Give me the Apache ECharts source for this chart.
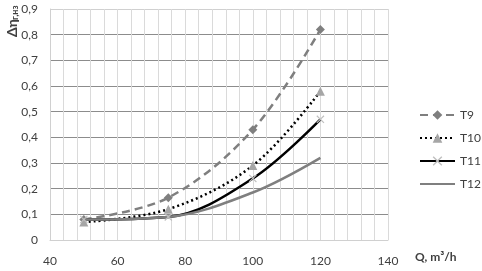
<!DOCTYPE html>
<html>
<head>
<meta charset="utf-8">
<script src="https://cdn.jsdelivr.net/npm/echarts@6/dist/echarts.min.js"></script>
<style>
  html, body { margin: 0; padding: 0; background: #fff; }
  #chart { width: 482px; height: 271px; }
</style>
</head>
<body>
<div id="chart"></div>
<script>
var flowQ = [50, 75, 100, 120];
var t9 = [0.08, 0.165, 0.43, 0.82];
var t10 = [0.07, 0.12, 0.29, 0.58];
var t11 = [0.08, 0.09, 0.24, 0.47];
var t12 = [0.08, 0.09, 0.185, 0.32];
var seriesNames = ['T9', 'T10', 'T11', 'T12'];

function pairs(ys) {
    return flowQ.map(function (q, i) { return [q, ys[i]]; });
}

var crossPath = 'path://M0,1L1,0L5,4L9,0L10,1L6,5L10,9L9,10L5,6L1,10L0,9L4,5Z';
var font = 'Lato, "Open Sans", sans-serif';

var myChart = echarts.init(document.getElementById('chart'));
myChart.setOption({
    animation: false,
    textStyle: { fontFamily: font },
    grid: { left: 50, top: 9, right: 94, bottom: 31, outerBoundsMode: 'none', containLabel: false },
    legend: {
        orient: 'vertical',
        left: 419,
        top: 109,
        padding: 0,
        itemWidth: 35,
        itemHeight: 12,
        itemGap: 11,
        textStyle: { fontSize: 12, color: '#404040', fontFamily: font, overflow: 'none', width: 40 },
        data: ['T9', 'T10', 'T11', { name: 'T12', itemStyle: { opacity: 0 } }]
    },
    // y axis title, rotated to read upward
    graphic: [{
        type: 'group',
        x: 12,
        y: 37,
        rotation: Math.PI / 2,
        children: [
            {
                type: 'text', x: 0, y: 0,
                style: { text: 'Δη', font: 'bold 14px ' + font, fill: '#404040', align: 'left', verticalAlign: 'middle' }
            },
            {
                type: 'text', x: 17, y: 3,
                style: { text: 'г,нз', font: 'bold 9px ' + font, fill: '#404040', align: 'left', verticalAlign: 'middle' }
            }
        ]
    }],
    xAxis: {
        type: 'value',
        min: 40,
        max: 140,
        interval: 20,
        name: 'Q, m³/h',
        nameLocation: 'end',
        nameGap: 27,
        nameTextStyle: {
            fontWeight: 'bold', fontSize: 12, color: '#404040',
            verticalAlign: 'top', align: 'left', padding: [11, 0, 0, 0]
        },
        axisLine: { lineStyle: { color: '#d0d0d0' } },
        axisTick: { show: false },
        axisLabel: { color: '#404040', fontSize: 12, margin: 15 },
        splitLine: { show: true, lineStyle: { color: '#dadada' } },
        minorTick: { show: false, splitNumber: 5 },
        minorSplitLine: { show: true, lineStyle: { color: '#dadada' } }
    },
    yAxis: {
        type: 'value',
        min: 0,
        max: 0.9,
        interval: 0.1,
        axisLine: { show: true, lineStyle: { color: '#d0d0d0' } },
        axisTick: { show: false },
        axisLabel: {
            color: '#404040', fontSize: 12, margin: 12,
            formatter: function (v) { return v === 0 ? '0' : v.toFixed(1).replace('.', ','); }
        },
        splitLine: {
            show: true,
            lineStyle: {
                color: ['#d0d0d0', '#8c8c8c', '#8c8c8c', '#8c8c8c', '#8c8c8c',
                        '#8c8c8c', '#8c8c8c', '#8c8c8c', '#8c8c8c', '#d0d0d0']
            }
        }
    },
    series: [
        {
            name: 'T9', type: 'line', smooth: 0.35, data: pairs(t9),
            symbol: 'diamond', symbolSize: 9,
            itemStyle: { color: '#7f7f7f' },
            lineStyle: { color: '#7f7f7f', width: 2.5, type: [8, 5] }
        },
        {
            name: 'T10', type: 'line', smooth: 0.35, data: pairs(t10),
            symbol: 'triangle', symbolSize: 9,
            itemStyle: { color: '#a6a6a6' },
            lineStyle: { color: '#000', width: 2.5, type: [2, 3] }
        },
        {
            name: 'T11', type: 'line', smooth: 0.35, data: pairs(t11),
            symbol: crossPath, symbolSize: 8,
            itemStyle: { color: '#bfbfbf' },
            lineStyle: { color: '#000', width: 2.5 }
        },
        {
            name: 'T12', type: 'line', smooth: 0.35, data: pairs(t12),
            symbol: 'none',
            itemStyle: { color: '#7f7f7f' },
            lineStyle: { color: '#7f7f7f', width: 2.5 }
        }
    ]
});
</script>
</body>
</html>
